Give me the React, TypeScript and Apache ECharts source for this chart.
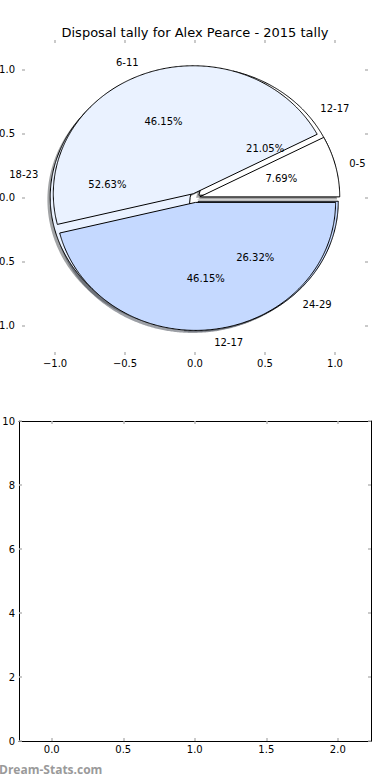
import React, { useEffect, useRef } from "react";
import * as echarts from "echarts";

const titleText = "Disposal tally for Alex Pearce - 2015 tally";
const pie1Labels = ["0-5", "6-11", "12-17"];
const pie1Values = [1, 6, 6];
const pie2Labels = ["12-17", "18-23", "24-29"];
const pie2Values = [4, 10, 5];
const sliceColors = ["#ffffff", "#eaf2ff", "#c5d9ff"];
const pieTicks = [-1, -0.5, 0, 0.5, 1];
const barXTicks = [0, 0.5, 1, 1.5, 2];
const barYTicks = [0, 2, 4, 6, 8, 10];

const EXPLODE = 0.035;
const SHADOW = -0.02;
const LABEL_R = 1.1;
const PCT_R = 0.6;
const FONT = "DejaVu Sans";
const TICK = "#b8b8b8";

function slices(values: number[]) {
  const total = values.reduce((a, b) => a + b, 0);
  let acc = 0;
  return values.map((v, i) => {
    const s = (acc / total) * 360;
    acc += v;
    const e = (acc / total) * 360;
    return [s, e, i];
  });
}

function shadowColor(hex: string) {
  const n = parseInt(hex.slice(1), 16);
  const r = Math.round(((n >> 16) & 255) * 0.3);
  const g = Math.round(((n >> 8) & 255) * 0.3);
  const b = Math.round((n & 255) * 0.3);
  return `rgba(${r},${g},${b},0.5)`;
}

const fmt1 = (v: number) => v.toFixed(1).replace("-", "\u2212");

const wedgeRender = (shadow: boolean) => (params: any, api: any) => {
  const s = api.value(0);
  const e = api.value(1);
  const ci = api.value(2);
  const m = (((s + e) / 2) * Math.PI) / 180;
  const cx = EXPLODE * Math.cos(m) + (shadow ? SHADOW : 0);
  const cy = EXPLODE * Math.sin(m) + (shadow ? SHADOW : 0);
  const pts: number[][] = [api.coord([cx, cy])];
  const n = Math.max(2, Math.ceil((e - s) * 2));
  for (let k = 0; k <= n; k++) {
    const a = ((s + ((e - s) * k) / n) * Math.PI) / 180;
    pts.push(api.coord([cx + Math.cos(a), cy + Math.sin(a)]));
  }
  const c = sliceColors[ci];
  const fill = shadow ? shadowColor(c) : c;
  return {
    type: "polygon",
    shape: { points: pts },
    style: { fill, stroke: shadow ? "none" : "#000", lineWidth: 1 },
  };
};

export default function App() {
  const ref = useRef<HTMLDivElement>(null);
  useEffect(() => {
    if (!ref.current) return;
    const chart = echarts.init(ref.current, undefined, { renderer: "svg" });

    const s1 = slices(pie1Values);
    const s2 = slices(pie2Values);
    const shadowData = [...s2, ...s1];

    const labelPos: number[][] = [];
    const labelText: string[] = [];
    const labelAlign: string[] = [];
    const addLabels = (sl: number[][], labels: string[], values: number[]) => {
      const total = values.reduce((a, b) => a + b, 0);
      sl.forEach(([s, e], i) => {
        const m = (((s + e) / 2) * Math.PI) / 180;
        const c = Math.cos(m);
        const sn = Math.sin(m);
        labelPos.push([(LABEL_R + EXPLODE) * c, (LABEL_R + EXPLODE) * sn]);
        labelText.push(labels[i]);
        labelAlign.push(c > 0 ? "left" : "right");
        labelPos.push([(PCT_R + EXPLODE) * c, (PCT_R + EXPLODE) * sn]);
        labelText.push(((values[i] / total) * 100).toFixed(2) + "%");
        labelAlign.push("center");
      });
    };
    addLabels(s2, pie2Labels, pie2Values);
    addLabels(s1, pie1Labels, pie1Values);

    const tickStyle = { color: TICK, width: 1.5 };
    const labelStyle = { fontSize: 10, color: "#000", fontFamily: FONT };

    chart.setOption({
      animation: false,
      backgroundColor: "#fff",
      title: {
        text: titleText,
        left: "center",
        top: 21,
        textStyle: { fontSize: 13, fontWeight: "normal", color: "#000", fontFamily: FONT },
      },
      grid: [
        { left: 22, right: 22, top: 40, bottom: 425, containLabel: false, outerBoundsMode: "none" },
        { left: 19, right: 19, top: 421, bottom: 39, containLabel: false, outerBoundsMode: "none" },
      ],
      xAxis: [
        {
          gridIndex: 0, type: "value", position: "bottom", min: -1.236, max: 1.236,
          axisLine: { show: false, onZero: false }, splitLine: { show: false },
          axisTick: { inside: true, length: 3, lineStyle: tickStyle, customValues: pieTicks },
          axisLabel: { ...labelStyle, customValues: pieTicks, formatter: fmt1, margin: 3 },
        },
        {
          gridIndex: 0, type: "value", position: "top", min: -1.236, max: 1.236,
          axisLine: { show: false, onZero: false }, splitLine: { show: false },
          axisTick: { inside: true, length: 3, lineStyle: tickStyle, customValues: pieTicks },
          axisLabel: { show: false },
        },
        {
          gridIndex: 1, type: "value", position: "bottom", min: -0.229, max: 2.232,
          axisLine: { show: true, onZero: false, lineStyle: { color: "#000", width: 1 } },
          splitLine: { show: false },
          axisTick: { inside: true, length: 3, lineStyle: tickStyle, customValues: barXTicks },
          axisLabel: { ...labelStyle, customValues: barXTicks, formatter: fmt1, margin: 3 },
        },
        {
          gridIndex: 1, type: "value", position: "top", min: -0.229, max: 2.232,
          axisLine: { show: true, onZero: false, lineStyle: { color: "#000", width: 1 } },
          splitLine: { show: false },
          axisTick: { inside: true, length: 3, lineStyle: tickStyle, customValues: barXTicks },
          axisLabel: { show: false },
        },
      ],
      yAxis: [
        {
          gridIndex: 0, type: "value", position: "left", min: -1.227, max: 1.234,
          axisLine: { show: false, onZero: false }, splitLine: { show: false },
          axisTick: { inside: true, length: 3, lineStyle: tickStyle, customValues: pieTicks },
          axisLabel: { ...labelStyle, customValues: pieTicks, formatter: fmt1, margin: 7 },
        },
        {
          gridIndex: 0, type: "value", position: "right", min: -1.227, max: 1.234,
          axisLine: { show: false, onZero: false }, splitLine: { show: false },
          axisTick: { inside: true, length: 3, lineStyle: tickStyle, customValues: pieTicks },
          axisLabel: { show: false },
        },
        {
          gridIndex: 1, type: "value", position: "left", min: 0, max: 10,
          axisLine: { show: true, onZero: false, lineStyle: { color: "#000", width: 1 } },
          splitLine: { show: false },
          axisTick: { inside: true, length: 3, lineStyle: tickStyle, customValues: barYTicks },
          axisLabel: { ...labelStyle, customValues: barYTicks, formatter: (v: number) => String(v), margin: 4 },
        },
        {
          gridIndex: 1, type: "value", position: "right", min: 0, max: 10,
          axisLine: { show: true, onZero: false, lineStyle: { color: "#000", width: 1 } },
          splitLine: { show: false },
          axisTick: { inside: true, length: 3, lineStyle: tickStyle, customValues: barYTicks },
          axisLabel: { show: false },
        },
      ],
      series: [
        {
          type: "custom", xAxisIndex: 0, yAxisIndex: 0, z: 1, silent: true,
          renderItem: wedgeRender(true), data: shadowData,
        },
        {
          type: "custom", xAxisIndex: 0, yAxisIndex: 0, z: 2, silent: true,
          renderItem: wedgeRender(false), data: s2,
        },
        {
          type: "custom", xAxisIndex: 0, yAxisIndex: 0, z: 3, silent: true,
          renderItem: wedgeRender(false), data: s1,
        },
        {
          type: "custom", xAxisIndex: 0, yAxisIndex: 0, z: 4, silent: true,
          data: labelPos,
          renderItem: (params: any, api: any) => {
            const p = api.coord([api.value(0), api.value(1)]);
            return {
              type: "text",
              x: p[0],
              y: p[1],
              style: {
                text: labelText[params.dataIndex],
                fontSize: 10,
                fontFamily: FONT,
                fill: "#000",
                align: labelAlign[params.dataIndex],
                verticalAlign: "middle",
              },
            };
          },
        },
      ],
      graphic: [
        {
          type: "text",
          x: -1,
          y: 763,
          style: {
            text: "Dream-Stats.com",
            fontSize: 12,
            fontWeight: "bold",
            fontFamily: "Open Sans",
            fill: "#9a9a9a",
          },
        },
      ],
    });
    return () => chart.dispose();
  }, []);
  return (
    <div
      ref={ref}
      style={{ position: "fixed", left: 0, top: 0, width: 390, height: 780 }}
    />
  );
}
